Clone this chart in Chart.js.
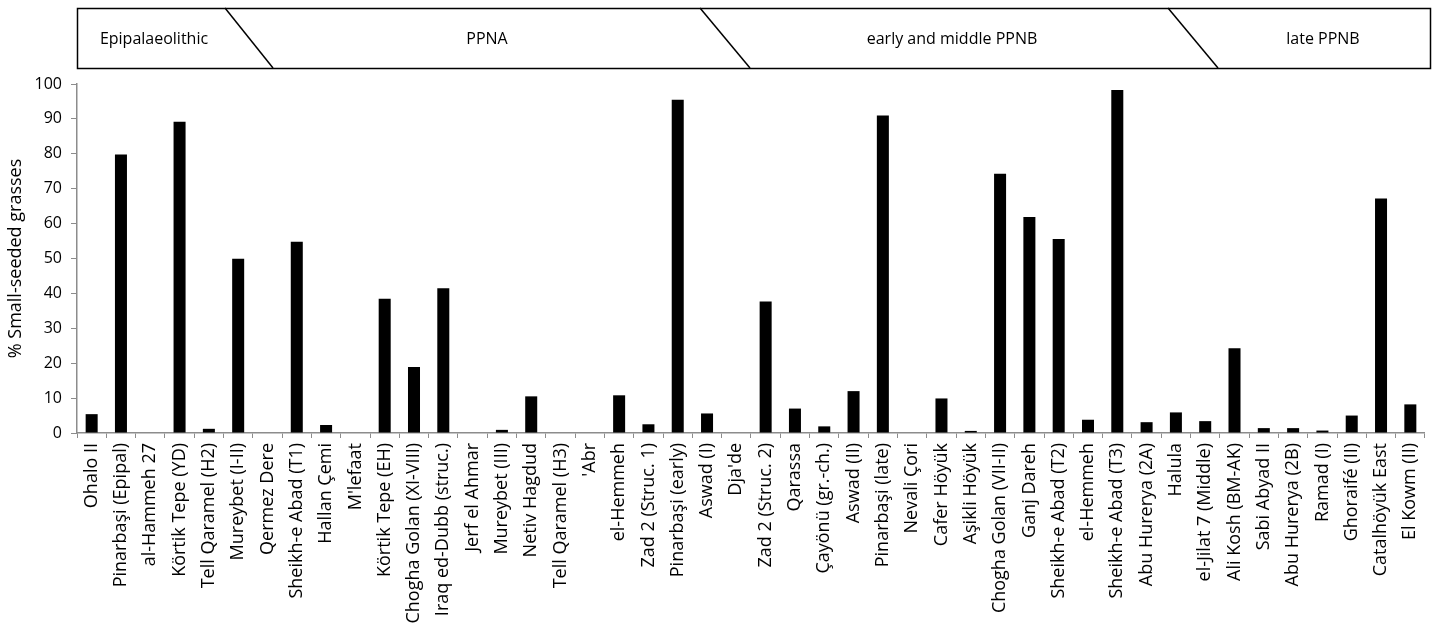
<!DOCTYPE html>
<html>
<head>
<meta charset="utf-8">
<script src="https://cdn.jsdelivr.net/npm/chart.js@4"></script>
<style>
  html, body { margin: 0; padding: 0; background: #fff; }
  #wrap { width: 1437px; height: 626px; position: relative; }
</style>
</head>
<body>
<div id="wrap"><canvas id="c" width="1437" height="626"></canvas></div>
<script>
const sites = [
  "Ohalo II", "Pinarbaşi (Epipal)", "al-Hammeh 27", "Körtik Tepe (YD)", "Tell Qaramel (H2)",
  "Mureybet (I-II)", "Qermez Dere", "Sheikh-e Abad (T1)", "Hallan Çemi", "M'lefaat",
  "Körtik Tepe (EH)", "Chogha Golan (XI-VIII)", "Iraq ed-Dubb (struc.)", "Jerf el Ahmar", "Mureybet (III)",
  "Netiv Hagdud", "Tell Qaramel (H3)", "'Abr", "el-Hemmeh", "Zad 2 (Struc. 1)",
  "Pinarbaşi (early)", "Aswad (I)", "Dja'de", "Zad 2 (Struc. 2)", "Qarassa",
  "Çayönü (gr.-ch.)", "Aswad (II)", "Pinarbaşi (late)", "Nevali Çori", "Cafer Höyük",
  "Aşikli Höyük", "Chogha Golan (VII-II)", "Ganj Dareh", "Sheikh-e Abad (T2)", "el-Hemmeh",
  "Sheikh-e Abad (T3)", "Abu Hurerya (2A)", "Halula", "el-Jilat 7 (Middle)", "Ali Kosh (BM-AK)",
  "Sabi Abyad II", "Abu Hurerya (2B)", "Ramad (I)", "Ghoraifé (II)", "Catalhöyük East",
  "El Kowm (II)"
];
const smallSeededPct = [
  5.4, 79.8, 0, 89.2, 1.2,
  49.9, 0, 54.8, 2.3, 0,
  38.5, 18.9, 41.5, 0, 0.9,
  10.5, 0, 0, 10.8, 2.5,
  95.5, 5.6, 0, 37.7, 7.0,
  1.9, 12.0, 91.0, 0, 9.9,
  0.6, 74.3, 61.9, 55.6, 3.8,
  98.3, 3.1, 5.9, 3.4, 24.3,
  1.4, 1.4, 0.7, 5.0, 67.2,
  8.2
];
const yTicks = [0, 10, 20, 30, 40, 50, 60, 70, 80, 90, 100];
const periods = ["Epipalaeolithic", "PPNA", "early and middle PPNB", "late PPNB"];

const FONT = "'Open Sans', 'Noto Sans', sans-serif";

// Banner geometry (layout only)
const banner = { left: 77, right: 1430, top: 8, bottom: 68,
  dividers: [[225, 273], [700, 750], [1168, 1218]],
  labelX: [154, 487, 952, 1323] };

const bannerPlugin = {
  id: 'banner',
  afterDraw(chart) {
    const ctx = chart.ctx;
    ctx.save();
    ctx.strokeStyle = '#000';
    ctx.lineWidth = 1.5;
    ctx.strokeRect(banner.left + 0.5, banner.top + 0.5, banner.right - banner.left, banner.bottom - banner.top);
    banner.dividers.forEach(([xt, xb]) => {
      ctx.beginPath();
      ctx.moveTo(xt, banner.top);
      ctx.lineTo(xb, banner.bottom);
      ctx.stroke();
    });
    ctx.fillStyle = '#000';
    ctx.font = "16px " + FONT;
    ctx.textAlign = 'center';
    ctx.textBaseline = 'middle';
    periods.forEach((p, i) => ctx.fillText(p, banner.labelX[i], (banner.top + banner.bottom) / 2 + 1));
    ctx.restore();
  }
};

new Chart(document.getElementById('c'), {
  type: 'bar',
  data: {
    labels: sites,
    datasets: [{
      data: smallSeededPct,
      backgroundColor: '#000',
      borderColor: '#000',
      borderWidth: 0,
      barPercentage: 0.41,
      categoryPercentage: 1.0
    }]
  },
  options: {
    responsive: false,
    animation: false,
    devicePixelRatio: 1,
    layout: { padding: { top: 84, left: 0, right: 6, bottom: 0 } },
    plugins: { legend: { display: false }, tooltip: { enabled: false } },
    scales: {
      x: {
        grid: { display: true, drawOnChartArea: false, offset: true, color: '#8c8c8c', tickLength: 5, lineWidth: 1 },
        border: { display: true, color: '#8c8c8c', width: 1.5 },
        ticks: {
          autoSkip: false, minRotation: 90, maxRotation: 90, padding: 5,
          color: '#000', font: { family: FONT, size: 18 }
        },
        afterFit(scale) { scale.height = 193; }
      },
      y: {
        min: 0, max: 100,
        afterBuildTicks(scale) { scale.ticks = yTicks.map(v => ({ value: v })); },
        grid: { display: true, drawOnChartArea: false, color: '#8c8c8c', tickLength: 6 },
        border: { display: true, color: '#8c8c8c', width: 1.5 },
        ticks: { color: '#000', padding: 9, font: { family: FONT, size: 16 } },
        title: {
          display: true, text: '% Small-seeded grasses', color: '#000',
          font: { family: FONT, size: 18 }, padding: { top: 5, bottom: 0 }
        },
        afterFit(scale) { scale.width = 77; }
      }
    }
  },
  plugins: [bannerPlugin]
});
</script>
</body>
</html>
